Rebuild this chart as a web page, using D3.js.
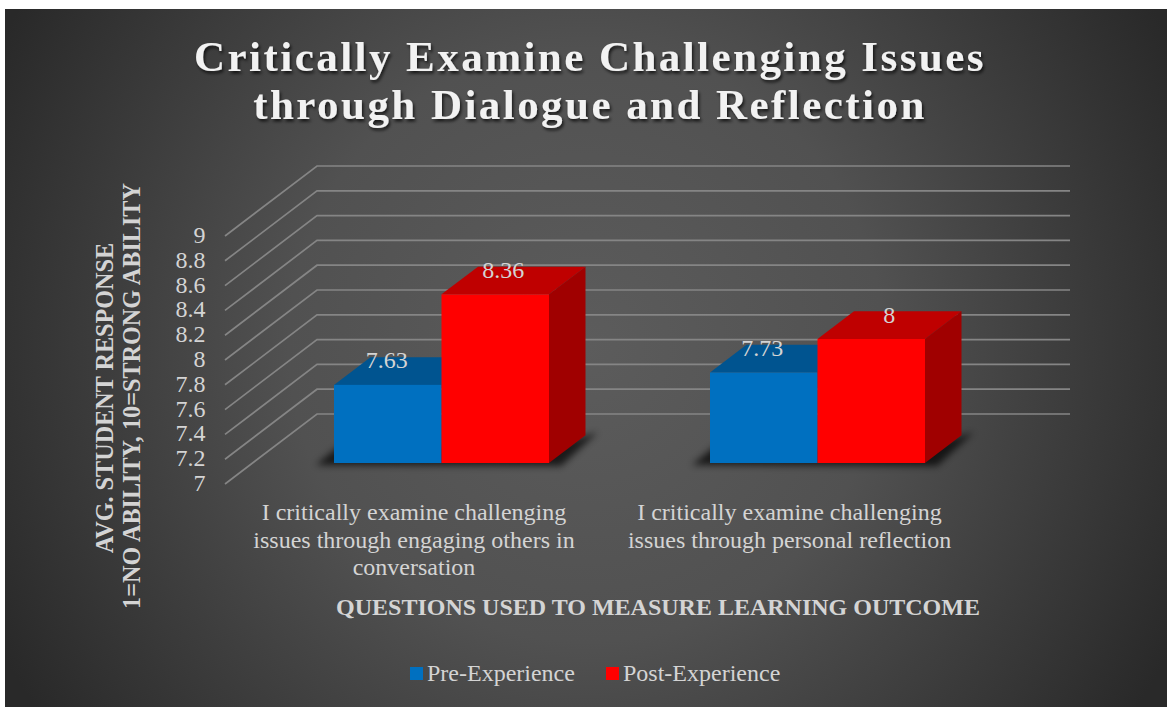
<!DOCTYPE html>
<html lang="en">
<head>
<meta charset="UTF-8">
<title>Critically Examine Challenging Issues through Dialogue and Reflection</title>
<script src="https://d3js.org/d3.v7.min.js"></script>
<style>
    html, body { margin: 0; padding: 0; background: #fff; }
    svg { display: block; }
    text { font-family: "Liberation Serif", "Times New Roman", serif; }
</style>
</head>
<body>
<svg width="1167" height="707"></svg>
<script>
const categories = [
    ["I critically examine challenging", "issues through engaging others in", "conversation"],
    ["I critically examine challenging", "issues through personal reflection"]
];
const categoryIds = ["engaging", "reflection"];
const series = ["Pre-Experience", "Post-Experience"];
const preValues = [7.63, 7.73];
const postValues = [8.36, 8];
const yTicks = [7, 7.2, 7.4, 7.6, 7.8, 8, 8.2, 8.4, 8.6, 8.8, 9];
const titleLines = ["Critically Examine Challenging Issues", "through Dialogue and Reflection"];
const yTitleLines = ["AVG. STUDENT RESPONSE", "1=NO ABILITY, 10=STRONG ABILITY"];
const xTitle = "QUESTIONS USED TO MEASURE LEARNING OUTCOME";
const frontColors = ["#0070c0", "#ff0000"];
const topColors = ["#005490", "#bf0000"];
const sideColors = ["#004a80", "#a00000"];

const svg = d3.select("svg");
const defs = svg.append("defs");

// fond sombre avec degrade radial
const bg = defs.append("radialGradient").attr("id", "bg")
    .attr("gradientUnits", "userSpaceOnUse")
    .attr("cx", 586).attr("cy", 345).attr("r", 660);
bg.append("stop").attr("offset", "0").attr("stop-color", "#5c5c5c");
bg.append("stop").attr("offset", "0.45").attr("stop-color", "#515151");
bg.append("stop").attr("offset", "1").attr("stop-color", "#292929");

const blur = defs.append("filter").attr("id", "blur")
    .attr("x", "-10%").attr("y", "-60%").attr("width", "120%").attr("height", "220%");
blur.append("feGaussianBlur").attr("stdDeviation", 3.5);
const ts = defs.append("filter").attr("id", "titleShadow")
    .attr("x", "-5%").attr("y", "-20%").attr("width", "110%").attr("height", "140%");
ts.append("feDropShadow").attr("dx", 1.5).attr("dy", 2.5).attr("stdDeviation", 1.6)
    .attr("flood-color", "#000").attr("flood-opacity", 0.7);

svg.append("rect").attr("x", 5).attr("y", 9).attr("width", 1162).attr("height", 698).attr("fill", "url(#bg)");

// echelles : plan avant du graphique 3D
const depthX = 36.5, depthY = 27.7;       // profondeur des barres
const wallX = 92, wallY = 70;             // profondeur du plancher
const y = d3.scaleLinear().domain([7, 9]).range([463, 215]);
const x0 = d3.scaleBand().domain(categoryIds).range([253.5, 1005.5]);
const x1 = d3.scaleBand().domain(series).range([0, 215]);
const groupLeft = id => x0(id) + (x0.bandwidth() - 215) / 2;
const wallTop = v => y(v) - 49;

// grille sur le mur du fond et le cote gauche
const grid = svg.append("g").attr("fill", "none").attr("stroke", "#858585").attr("stroke-width", 1.7);
grid.selectAll("path").data(yTicks).enter().append("path")
    .attr("d", d => `M225,${wallTop(d) + wallY}L${225 + wallX},${wallTop(d)}H1070`);

// etiquettes axe y
svg.append("g").selectAll("text").data(yTicks).enter().append("text")
    .attr("x", 205.5).attr("y", d => wallTop(d) + wallY + 7)
    .attr("text-anchor", "end").attr("font-size", 24).attr("fill", "#d4d4d4")
    .text(d => d);

// barres en 3D
const bars = series.flatMap((s, i) => categoryIds.map((c, j) => ({
    s, i, c, j, v: (i === 0 ? preValues : postValues)[j]
})));

// ombre au sol
svg.append("g").selectAll("path").data(categoryIds).enter().append("path")
    .attr("d", c => {
        const l = groupLeft(c), r = l + 215, b = y(7);
        return `M${l - 18},${b + 2}L${l + 4},${b - 16}H${r}L${r + depthX + 12},${b - depthY - 3}L${r + 12},${b + 3}Z`;
    })
    .attr("fill", "#000").attr("opacity", 0.7).attr("filter", "url(#blur)");

const bar = svg.append("g").selectAll("g").data(bars).enter().append("g");
bar.append("path")
    .attr("d", d => {
        const l = groupLeft(d.c) + x1(d.s), r = l + x1.bandwidth(), t = y(d.v);
        return `M${l},${t}L${l + depthX},${t - depthY}H${r + depthX}L${r},${t}Z`;
    })
    .attr("fill", d => topColors[d.i]);
bar.append("path")
    .attr("d", d => {
        const r = groupLeft(d.c) + x1(d.s) + x1.bandwidth(), t = y(d.v), b = y(7);
        return `M${r},${t}L${r + depthX},${t - depthY}V${b - depthY}L${r},${b}Z`;
    })
    .attr("fill", d => sideColors[d.i]);
bar.append("rect")
    .attr("x", d => groupLeft(d.c) + x1(d.s))
    .attr("y", d => y(d.v))
    .attr("width", x1.bandwidth())
    .attr("height", d => y(7) - y(d.v))
    .attr("fill", d => frontColors[d.i]);

// valeurs (decalage horizontal propre a chaque etiquette, comme dans l'original)
const labelShift = { "Pre-Experience": [-1, -1.5], "Post-Experience": [8, 18] };
svg.append("g").selectAll("text").data(bars).enter().append("text")
    .attr("x", d => groupLeft(d.c) + x1(d.s) + x1.bandwidth() / 2 + labelShift[d.s][d.j])
    .attr("y", d => y(d.v) - 16.5)
    .attr("text-anchor", "middle").attr("font-size", 24).attr("fill", "#d4d4d4")
    .text(d => d.v);

// titre
svg.append("g").attr("filter", "url(#titleShadow)").selectAll("text").data(titleLines).enter().append("text")
    .attr("x", 590).attr("y", (d, i) => 71 + i * 48)
    .attr("text-anchor", "middle").attr("font-size", 43).attr("font-weight", "bold")
    .attr("letter-spacing", 2.45).attr("fill", "#f2f2f2")
    .text(d => d);

// etiquettes de categories
const catLabel = svg.append("g").selectAll("text").data(categories).enter().append("text")
    .attr("text-anchor", "middle").attr("font-size", 24).attr("fill", "#d4d4d4");
catLabel.selectAll("tspan").data((d, i) => d.map(t => ({ t, i }))).enter().append("tspan")
    .attr("x", d => d.i === 0 ? 414 : 789.5)
    .attr("y", (d, k) => 520 + k * 27.5)
    .text(d => d.t);

// titres des axes
svg.append("g").selectAll("text").data(yTitleLines).enter().append("text")
    .attr("transform", (d, i) => `translate(${113 + i * 27},${i === 0 ? 398 : 396}) rotate(-90)`)
    .attr("text-anchor", "middle").attr("font-size", 24.2).attr("font-weight", "bold").attr("fill", "#d4d4d4")
    .text(d => d);
svg.append("text").attr("x", 658).attr("y", 615)
    .attr("text-anchor", "middle").attr("font-size", 24).attr("font-weight", "bold").attr("fill", "#d4d4d4")
    .text(xTitle);

// legende
const legendX = [410, 606];
const legend = svg.append("g").selectAll("g").data(series).enter().append("g");
legend.append("rect")
    .attr("x", (d, i) => legendX[i]).attr("y", 667).attr("width", 13).attr("height", 13)
    .attr("fill", (d, i) => frontColors[i]);
legend.append("text")
    .attr("x", (d, i) => legendX[i] + 17).attr("y", 681)
    .attr("font-size", 24).attr("fill", "#d4d4d4")
    .text(d => d);
</script>
</body>
</html>
